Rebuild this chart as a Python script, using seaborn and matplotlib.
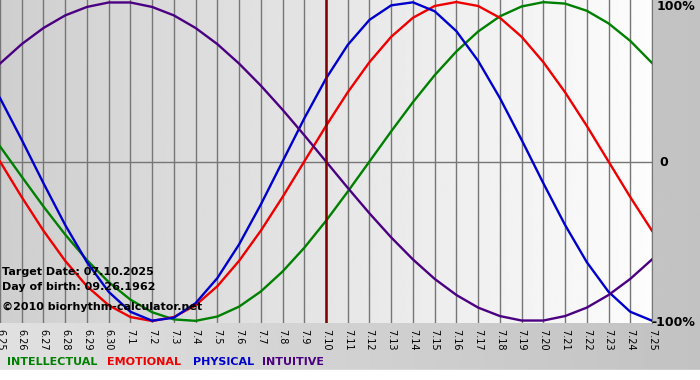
import numpy as np
import pandas as pd
import matplotlib
matplotlib.use("Agg")
import matplotlib.pyplot as plt
import seaborn as sns


# day labels 6.25 .. 7.25
day_labels = ["6.25", "6.26", "6.27", "6.28", "6.29", "6.30"] + ["7.%d" % i for i in range(1, 26)]

# values (-1 .. 1)
intellectual = [0.095, -0.095, -0.282, -0.458, -0.618, -0.756, -0.866, -0.945, -0.990, -0.999,
                -0.972, -0.910, -0.815, -0.690, -0.541, -0.372, -0.189, 0.0, 0.189, 0.372,
                0.541, 0.690, 0.815, 0.910, 0.972, 0.999, 0.990, 0.945, 0.866, 0.756, 0.618]
emotional = [0.0, -0.223, -0.434, -0.623, -0.782, -0.901, -0.975, -1.0, -0.975, -0.901,
             -0.782, -0.623, -0.434, -0.223, 0.0, 0.223, 0.434, 0.623, 0.782, 0.901,
             0.975, 1.0, 0.975, 0.901, 0.782, 0.623, 0.434, 0.223, 0.0, -0.223, -0.434]
physical = [0.398, 0.136, -0.136, -0.398, -0.631, -0.817, -0.942, -0.998, -0.979, -0.888,
            -0.731, -0.520, -0.270, 0.0, 0.270, 0.520, 0.731, 0.888, 0.979, 0.998,
            0.942, 0.817, 0.631, 0.398, 0.136, -0.136, -0.398, -0.631, -0.817, -0.942, -0.998]
intuitive = [0.614, 0.736, 0.837, 0.916, 0.969, 0.997, 0.997, 0.969, 0.916, 0.837,
             0.736, 0.614, 0.476, 0.325, 0.165, 0.0, -0.165, -0.325, -0.476, -0.614,
             -0.736, -0.837, -0.916, -0.969, -0.997, -0.997, -0.969, -0.916, -0.837, -0.736, -0.614]

series_names = ["INTELLECTUAL", "EMOTIONAL", "PHYSICAL", "INTUITIVE"]
series_colors = ["#008000", "#ee0000", "#0000cc", "#4b0082"]
target_day = "7.10"


def main():
    days = np.arange(len(day_labels))
    df = pd.DataFrame({
        "day": np.tile(days, 4),
        "value": intellectual + emotional + physical + intuitive,
        "cycle": np.repeat(series_names, len(days)),
    })

    fig = plt.figure(figsize=(7, 3.8), dpi=100)

    # figure background: grey gradient, white strip at the bottom
    bg = fig.add_axes([0, 0, 1, 1], zorder=-10)
    grad = np.linspace(0.88, 0.76, 256).reshape(1, -1)
    bg.imshow(grad, cmap="gray", vmin=0, vmax=1, aspect="auto", extent=[0, 1, 0, 1])
    bg.axhspan(0, 10 / 380, color="white")
    bg.set_xlim(0, 1)
    bg.set_ylim(0, 1)
    bg.axis("off")

    ax = fig.add_axes([0, 1 - 323 / 380, 652 / 700, 323 / 380])
    ax.set_xlim(0, len(days) - 1)
    ax.set_ylim(-1.0125, 1.0125)

    # plot area gradient
    pgrad = np.linspace(0.81, 0.99, 256).reshape(1, -1)
    ax.imshow(pgrad, cmap="gray", vmin=0, vmax=1, aspect="auto",
              extent=[0, len(days) - 1, -1.0125, 1.0125], zorder=0)

    for d in days:
        ax.axvline(d, color="#767676", lw=1, zorder=1)
    ax.axhline(0, color="#767676", lw=1, zorder=1)

    sns.lineplot(data=df, x="day", y="value", hue="cycle", hue_order=series_names,
                 palette=series_colors, linewidth=1.7, legend=False, ax=ax, zorder=3)

    ax.axvline(day_labels.index(target_day), color="#800000", lw=1.8, zorder=4)

    for s in ["top", "left", "bottom"]:
        ax.spines[s].set_visible(False)
    ax.spines["right"].set_color("#767676")

    ax.set_xticks(days)
    ax.set_xticklabels(day_labels, rotation=270, fontsize=7, color="#000000")
    ax.tick_params(axis="x", length=0, pad=4)
    ax.set_yticks([])
    ax.set_xlabel("")
    ax.set_ylabel("")

    # right-hand percent labels
    fig.text(657 / 700, 1 - 7 / 380, "100%", fontsize=9, fontweight="bold", va="center", ha="left")
    fig.text(659 / 700, 1 - 163 / 380, "0", fontsize=9, fontweight="bold", va="center", ha="left")
    fig.text(651 / 700, 1 - 322 / 380, "-100%", fontsize=9, fontweight="bold", va="center", ha="left")

    # info text
    info = ["Target Date: 07.10.2025", "Day of birth: 09.26.1962"]
    for i, t in enumerate(info):
        fig.text(2 / 700, 1 - (272 + 15 * i) / 380, t, fontsize=8, fontweight="bold", va="center")
    fig.text(2 / 700, 1 - 307 / 380, "\u00a92010 biorhythm-calculator.net", fontsize=8,
             fontweight="bold", va="center")

    # legend text
    xs = [7, 107, 193, 262]
    for x, name, c in zip(xs, series_names, series_colors):
        fig.text(x / 700, 1 - 362 / 380, name, fontsize=8, fontweight="bold", color=c, va="center")

    fig.savefig("out.png", dpi=100)


if __name__ == "__main__":
    main()
